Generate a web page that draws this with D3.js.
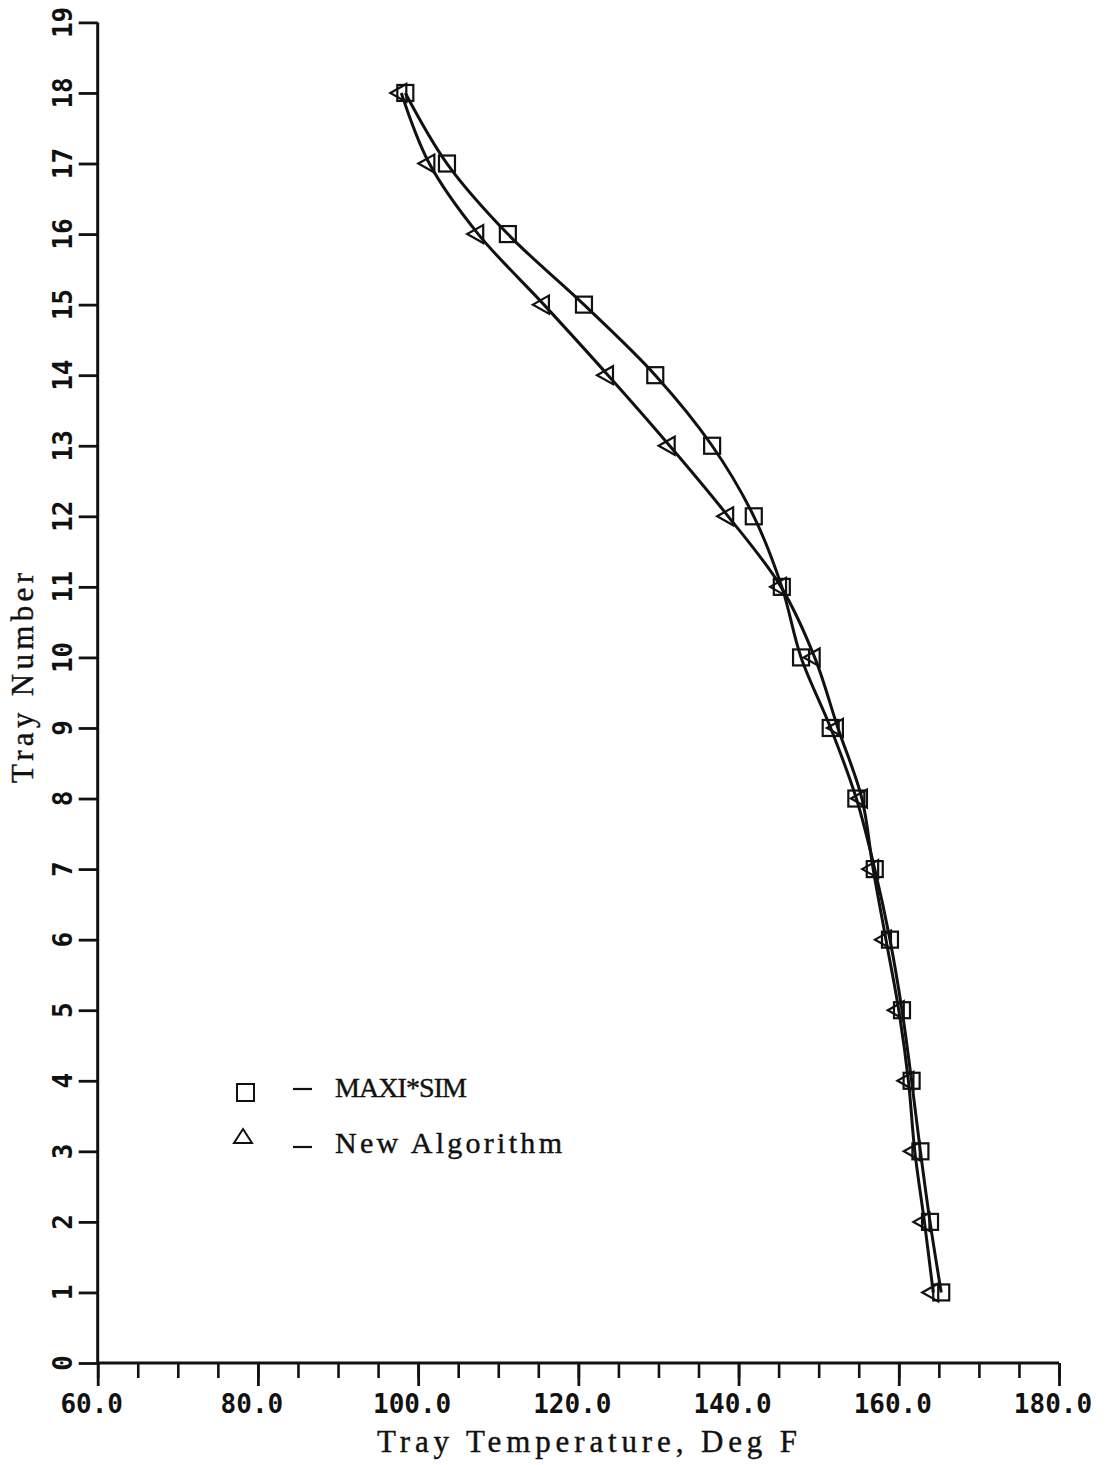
<!DOCTYPE html>
<html>
<head>
<meta charset="utf-8">
<script src="https://cdn.jsdelivr.net/npm/d3@7"></script>
<style>
  html, body { margin: 0; padding: 0; background: #fff; }
  svg { display: block; }
  .tick-label { font-family: "DejaVu Sans Mono", monospace; font-weight: bold; font-size: 26px; fill: #111; }
  .title { font-family: "Liberation Serif", "DejaVu Serif", serif; font-size: 31px; fill: #111; stroke: #111; stroke-width: 0.4px; }
</style>
</head>
<body>
<script>
// Tray temperature profiles (deg F) for trays 1..18
const trays = [1, 2, 3, 4, 5, 6, 7, 8, 9, 10, 11, 12, 13, 14, 15, 16, 17, 18];
const maxiSim = [165.3, 163.9, 162.7, 161.6, 160.4, 158.9, 157.0, 154.7, 151.5, 147.8, 145.4, 141.9, 136.7, 129.6, 120.7, 111.2, 103.6, 98.4];
const newAlgorithm = [164.3, 163.2, 162.0, 161.2, 160.0, 158.4, 156.8, 155.4, 152.4, 149.5, 145.3, 138.7, 131.4, 123.7, 115.7, 107.5, 101.4, 97.9];

const xMajorTicks = [60, 80, 100, 120, 140, 160, 180];
const xMinorTicks = d3.range(60, 181, 5);
const yTicks = d3.range(0, 20, 1);

const xTitle = "Tray Temperature, Deg F";
const yTitle = "Tray Number";
const legendLabels = ["MAXI*SIM", "New Algorithm"];

const W = 1107, H = 1465;
const svg = d3.select("body").append("svg").attr("width", W).attr("height", H);

const x = d3.scaleLinear().domain([60, 180]).range([97.7, 1059]);
const y = d3.scaleLinear().domain([0, 19]).range([1363, 22.4]);

const ink = "#111";

// x axis: major and minor ticks
const xAxisG = svg.append("g").attr("transform", `translate(0,${y(0)})`);
xAxisG.append("g")
  .call(d3.axisBottom(x).tickValues(xMinorTicks).tickSize(15).tickSizeOuter(0).tickFormat(""))
  .call(g => g.selectAll(".tick line").attr("stroke", ink).attr("stroke-width", 2.6))
  .call(g => g.select(".domain").remove());
xAxisG.append("g")
  .call(d3.axisBottom(x).tickValues(xMajorTicks).tickSize(23).tickSizeOuter(0).tickFormat(""))
  .call(g => g.selectAll(".tick line").attr("stroke", ink).attr("stroke-width", 2.8))
  .call(g => g.select(".domain").remove());
xAxisG.append("line")
  .attr("x1", x(60)).attr("x2", x(180)).attr("y1", 0).attr("y2", 0)
  .attr("stroke", ink).attr("stroke-width", 3);
xAxisG.selectAll("text.xl").data(xMajorTicks).join("text")
  .attr("class", "tick-label xl")
  .attr("x", d => x(d) - 6).attr("y", 50)
  .attr("text-anchor", "middle")
  .text(d => d.toFixed(1));

// y axis
const yAxisG = svg.append("g").attr("transform", `translate(${x(60)},0)`);
yAxisG.append("g")
  .call(d3.axisLeft(y).tickValues(yTicks).tickSize(19).tickSizeOuter(0).tickFormat(""))
  .call(g => g.selectAll(".tick line").attr("stroke", ink).attr("stroke-width", 2.8))
  .call(g => g.select(".domain").remove());
yAxisG.append("line")
  .attr("x1", 0).attr("x2", 0).attr("y1", y(19)).attr("y2", y(0))
  .attr("stroke", ink).attr("stroke-width", 3);
svg.selectAll("text.yl").data(yTicks).join("text")
  .attr("class", "tick-label yl")
  .attr("transform", d => `translate(72,${y(d)}) rotate(-90)`)
  .attr("text-anchor", "middle")
  .text(d => d);

// axis titles (typewriter-like spacing)
svg.append("text").attr("class", "title")
  .attr("x", 377).attr("y", 1452)
  .attr("textLength", 420).attr("lengthAdjust", "spacing")
  .text(xTitle);
svg.append("text").attr("class", "title")
  .attr("transform", `translate(33,783) rotate(-90)`)
  .attr("textLength", 210).attr("lengthAdjust", "spacing")
  .text(yTitle);

// curves
const line = d3.line()
  .x(d => x(d[1]))
  .y(d => y(d[0]))
  .curve(d3.curveCatmullRom.alpha(0.5));

const sqData = trays.map((t, i) => [t, maxiSim[i]]);
const trData = trays.map((t, i) => [t, newAlgorithm[i]]);

svg.append("path").datum(sqData).attr("d", line)
  .attr("fill", "none").attr("stroke", ink).attr("stroke-width", 3);
svg.append("path").datum(trData).attr("d", line)
  .attr("fill", "none").attr("stroke", ink).attr("stroke-width", 3);

// markers
const sq = 16;
svg.selectAll("rect.sq").data(sqData).join("rect")
  .attr("class", "sq")
  .attr("x", d => x(d[1]) - sq / 2).attr("y", d => y(d[0]) - sq / 2)
  .attr("width", sq).attr("height", sq)
  .attr("fill", "none").attr("stroke", ink).attr("stroke-width", 2.2);

const triLeft = "M-11,0 L5,-9 L5,9 Z";
svg.selectAll("path.tri").data(trData).join("path")
  .attr("class", "tri")
  .attr("transform", d => `translate(${x(d[1])},${y(d[0])})`)
  .attr("d", triLeft)
  .attr("fill", "none").attr("stroke", ink).attr("stroke-width", 2.2)
  .attr("stroke-linejoin", "miter");

// legend
const lg = svg.append("g");
lg.append("rect").attr("x", 237).attr("y", 1084).attr("width", 17).attr("height", 17)
  .attr("fill", "none").attr("stroke", ink).attr("stroke-width", 2);
lg.append("path").attr("d", "M243,1129 L252,1143 L234,1143 Z")
  .attr("fill", "none").attr("stroke", ink).attr("stroke-width", 2);
lg.append("line").attr("x1", 293).attr("x2", 312).attr("y1", 1089).attr("y2", 1089)
  .attr("stroke", ink).attr("stroke-width", 2.2);
lg.append("line").attr("x1", 293).attr("x2", 312).attr("y1", 1147).attr("y2", 1147)
  .attr("stroke", ink).attr("stroke-width", 2.2);
lg.append("text").attr("class", "title").attr("x", 335).attr("y", 1097)
  .attr("textLength", 132).attr("lengthAdjust", "spacing")
  .style("font-size", "28px").text(legendLabels[0]);
lg.append("text").attr("class", "title").attr("x", 335).attr("y", 1153)
  .attr("textLength", 227).attr("lengthAdjust", "spacing")
  .style("font-size", "30px").text(legendLabels[1]);
</script>
</body>
</html>
